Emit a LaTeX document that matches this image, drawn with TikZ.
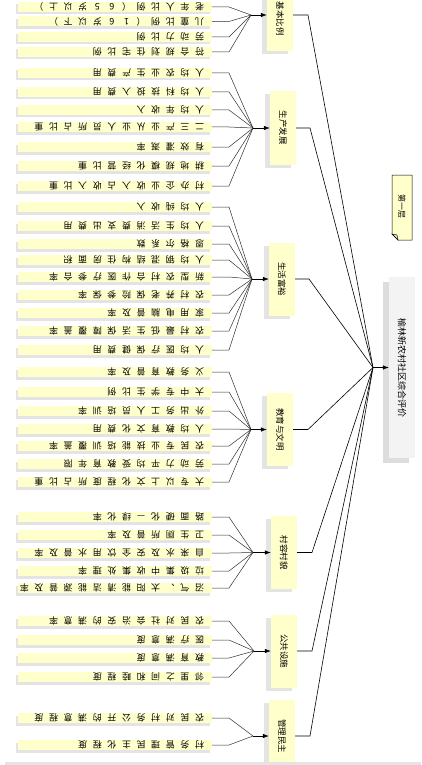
\documentclass[tikz,border=0pt]{standalone}
\usepackage{fontspec}
\newfontfamily\cjk{Noto Sans CJK SC}
\usetikzlibrary{arrows.meta}
\definecolor{yel}{HTML}{FFFFCC}
\definecolor{shd}{HTML}{E4E4E4}
\definecolor{rootf}{HTML}{F3F3F3}
\definecolor{rootshd}{HTML}{DDDDDD}
\definecolor{lnc}{HTML}{303030}
\makeatletter
\newdimen\spacedw
\newcommand\spacedtxt[2]{\spacedw=#1\relax\hbox{\spacedloop#2\@nil}}
\def\spacedloop#1{\ifx#1\@nil\else\hbox to \spacedw{\hss#1\hss}\expandafter\spacedloop\fi}
\makeatother
\tikzset{
  leafbar/.style={fill=yel, inner sep=0pt, minimum height=10pt, minimum width=194pt, anchor=east},
  leaftext/.style={rotate=180, anchor=west, inner sep=0pt, font=\cjk\fontsize{9}{10}\selectfont},
  leafline/.style={draw=lnc, line width=0.5pt},
  cat/.style={fill=yel, inner sep=0pt, minimum width=26pt, minimum height=73pt},
  cattext/.style={rotate=-90, inner sep=0pt, font=\cjk\fontsize{8.5}{9}\selectfont},
  catline/.style={draw=black, line width=0.6pt},
  arr/.style={-{Latex[length=6pt,width=4.5pt]}, line width=0.6pt, draw=black},
  rootbox/.style={fill=rootf, inner sep=0pt, minimum width=26pt, minimum height=181pt},
  roottext/.style={rotate=-90, inner sep=0pt, font=\cjk\fontsize{9}{10}\selectfont},
  layertext/.style={rotate=-90, inner sep=0pt, font=\cjk\fontsize{8}{9}\selectfont}
}
\newcommand\leafrow[4]{%
  \fill[shd] (16,#2-2.5) rectangle (210,#2+7.5);
  \node[leafbar] (#1) at (212,#2) {};
  \node[leaftext] (#1t) at (207,#2) {\spacedtxt{14.6pt}{#3}};
  \draw[leafline] (#1.east) -- ++(17,0) -- (#4);
}
\newcommand\catbox[7]{%
  \fill[shd] (#2-5,#3-33.5) rectangle (#2+21,#3+39.5);
  \node[cat] (#1) at (#2+13,#3) {};
  \node[cattext] (#1t) at (#2+13,#7) {#4};
  \draw[catline] (#1.east) -- (#5,#3) -- (rc);
  \draw[arr] (#6) -- (#1.west);
}
\begin{document}
\begin{tikzpicture}[x=1pt,y=-1pt]
\useasboundingbox (0,0) rectangle (421,765);
\fill[white] (0,0) rectangle (421,765);
% convergence points
\coordinate (rc) at (373,367.5);
\coordinate (g1c) at (251,15);
\coordinate (g2c) at (253,128);
\coordinate (g3c) at (252,279);
\coordinate (g4c) at (251,429.5);
\coordinate (g5c) at (253,552.5);
\coordinate (g6c) at (254,651);
\coordinate (g7c) at (253,736);
% group 1
\leafrow{a1}{7}{老年人比例（65岁以上）}{g1c}
\leafrow{a2}{21.5}{儿童比例（16岁以下）}{g1c}
\leafrow{a3}{37}{劳动力比例}{g1c}
\leafrow{a4}{52}{符合规划住宅比例}{g1c}
% group 2
\leafrow{b1}{73}{人均农业生产费用}{g2c}
\leafrow{b2}{92}{人均科技投入费用}{g2c}
\leafrow{b3}{110}{人均年收入}{g2c}
\leafrow{b4}{127}{二三产业从业人员所占比重}{g2c}
\leafrow{b5}{147}{有效灌溉率}{g2c}
\leafrow{b6}{166}{耕地规模化经营比重}{g2c}
\leafrow{b7}{186}{村办企业收入占收入比重}{g2c}
% group 3
\leafrow{c1}{207}{人均纯收入}{g3c}
\leafrow{c2}{226}{人均生活消费支出费用}{g3c}
\leafrow{c3}{244}{恩格尔系数}{g3c}
\leafrow{c4}{260}{人均钢混结构住房面积}{g3c}
\leafrow{c5}{277}{新型农村合作医疗参合率}{g3c}
\leafrow{c6}{295}{农村养老保险参保率}{g3c}
\leafrow{c7}{313}{家用电脑普及率}{g3c}
\leafrow{c8}{331}{农村最低生活保障覆盖率}{g3c}
\leafrow{c9}{350}{人均医疗保健费用}{g3c}
% group 4
\leafrow{d1}{372}{义务教育普及率}{g4c}
\leafrow{d2}{392}{大中专学生比例}{g4c}
\leafrow{d3}{411}{外出务工人员培训率}{g4c}
\leafrow{d4}{429}{人均教育文化费用}{g4c}
\leafrow{d5}{446}{农民专业技能培训覆盖率}{g4c}
\leafrow{d6}{464}{劳动力平均受教育年限}{g4c}
\leafrow{d7}{482}{大专以上文化程度所占比重}{g4c}
% group 5
\leafrow{e1}{517}{路面硬化—绿化率}{g5c}
\leafrow{e2}{535}{卫生厕所普及率}{g5c}
\leafrow{e3}{553}{自来水及安全饮用水普及率}{g5c}
\leafrow{e4}{571}{垃圾集中收集处理率}{g5c}
\leafrow{e5}{588}{沼气、太阳能清洁能源普及率}{g5c}
% group 6
\leafrow{f1}{621}{农民对社会治安的满意率}{g6c}
\leafrow{f2}{640}{医疗满意度}{g6c}
\leafrow{f3}{658}{教育满意度}{g6c}
\leafrow{f4}{677}{邻里之间和睦程度}{g6c}
% group 7
\leafrow{h1}{718}{农民对村务公开的满意程度}{g7c}
\leafrow{h2}{745}{村务管理民主化程度}{g7c}
% categories
\catbox{k1}{267}{15}{基本比例}{308}{g1c}{19}
\catbox{k2}{270}{128}{生产发展}{310}{g2c}{128}
\catbox{k3}{269}{279}{生活富裕}{309}{g3c}{279}
\catbox{k4}{267}{429.5}{教育与文明}{308}{g4c}{429.5}
\catbox{k5}{271}{552.5}{村容村貌}{312}{g5c}{552.5}
\catbox{k6}{271}{651}{公共设施}{312}{g6c}{651}
\catbox{k7}{269}{736}{管理民主}{310}{g7c}{736}
% root
\fill[rootshd] (383,282) rectangle (409,463);
\node[rootbox] (root) at (402,367.5) {};
\node[roottext] (roott) at (root.center) {榆林新农村社区综合评价};
\draw[arr] (rc) -- (root.west);
% layer label
\draw[fill=yel, line width=0.5pt] (392,175) -- (412,175) -- (412,240) -- (398,240) -- (392,234) -- cycle;
\draw[fill=yel!75!gray, line width=0.4pt] (392,234) -- (397,235) -- (398,240) -- cycle;
\node[layertext] (layer) at (402,206) {第一层};
% bottom band
\fill[shd] (5,762) rectangle (421,765);
\end{tikzpicture}
\end{document}
